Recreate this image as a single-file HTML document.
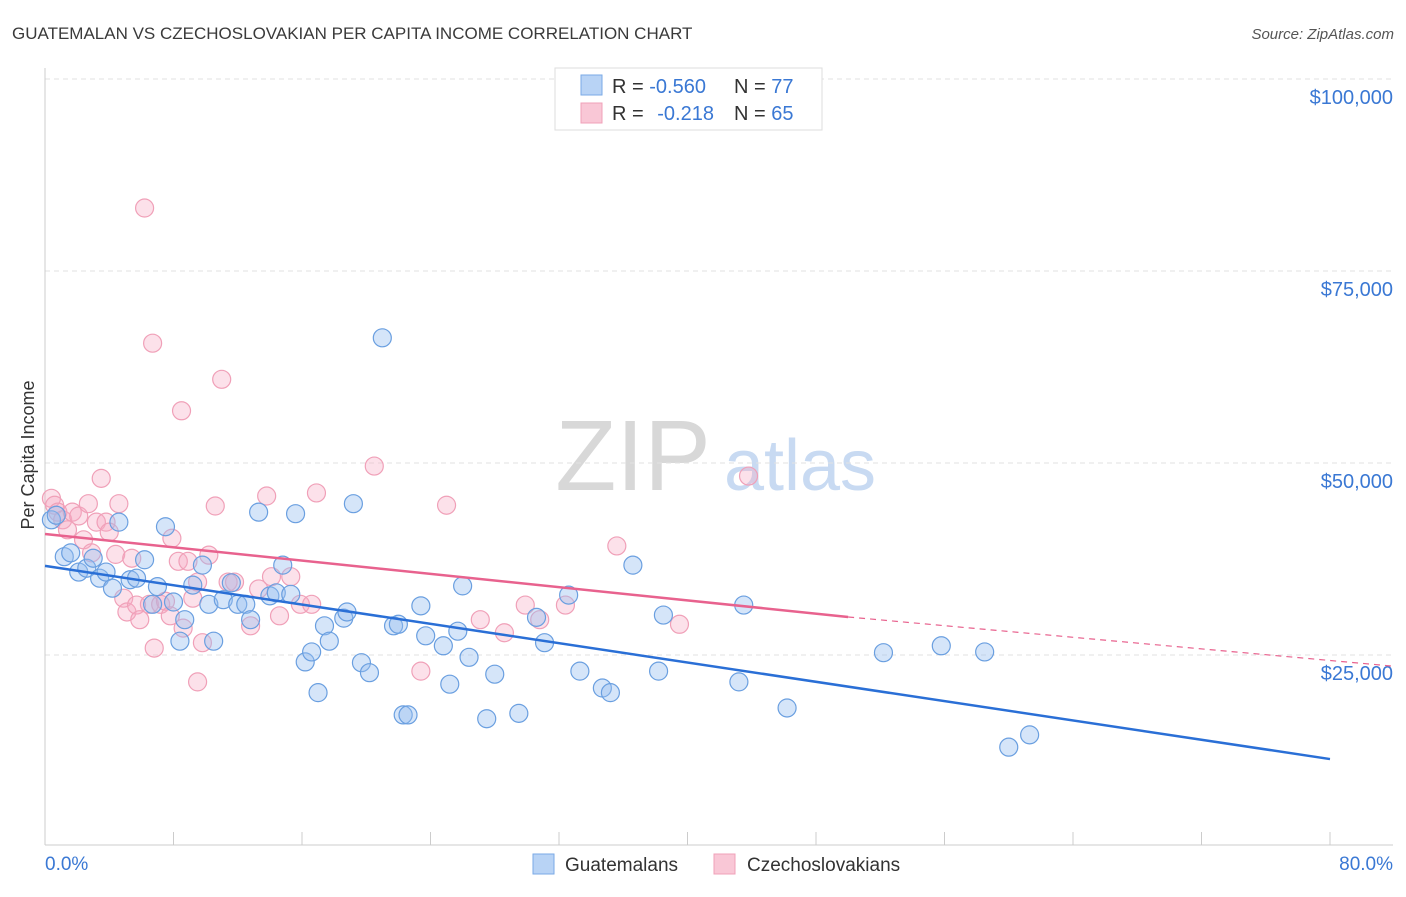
<!DOCTYPE html>
<html><head><meta charset="utf-8"><style>
html,body{margin:0;padding:0;background:#fff;}
body{width:1406px;height:892px;overflow:hidden;font-family:"Liberation Sans",sans-serif;}
svg text{font-family:"Liberation Sans",sans-serif;}
</style></head><body>
<svg id="chart" width="1406" height="892" xmlns="http://www.w3.org/2000/svg">
<text x="12" y="39" font-size="17" fill="#3a3a3a">GUATEMALAN VS CZECHOSLOVAKIAN PER CAPITA INCOME CORRELATION CHART</text>
<text x="1394" y="39" font-size="15" fill="#555" font-style="italic" text-anchor="end">Source: ZipAtlas.com</text>
<text transform="translate(34,455) rotate(-90)" font-size="18" fill="#333" text-anchor="middle">Per Capita Income</text>
<g>
<text x="633" y="490" font-size="100" font-family="Liberation Serif,serif" fill="#d8d8d8" text-anchor="middle">ZIP</text>
<text x="800" y="490" font-size="72" fill="#c8daf2" text-anchor="middle">atlas</text>
</g>
<g id="grid"></g>
<g id="axes"></g>
<g id="points"></g>
<g id="lines"></g>
<g>
<rect x="555" y="68" width="267" height="62" fill="#fff" stroke="#ddd"/>
<rect x="581" y="75" width="21" height="20" fill="#b8d3f5" stroke="#7aa9e6"/>
<rect x="581" y="103" width="21" height="20" fill="#f9c7d6" stroke="#f0a0b8"/>
<text x="612" y="93" font-size="20" fill="#333">R = <tspan fill="#3a78d4">-0.560</tspan></text>
<text x="734" y="93" font-size="20" fill="#333">N = <tspan fill="#3a78d4">77</tspan></text>
<text x="612" y="120" font-size="20" fill="#333">R = <tspan fill="#3a78d4" dx="8">-0.218</tspan></text>
<text x="734" y="120" font-size="20" fill="#333">N = <tspan fill="#3a78d4">65</tspan></text>
</g>
<g>
<rect x="533" y="854" width="21" height="20" fill="#b8d3f5" stroke="#7aa9e6"/>
<text x="565" y="871" font-size="19" fill="#333">Guatemalans</text>
<rect x="714" y="854" width="21" height="20" fill="#f9c7d6" stroke="#f0a0b8"/>
<text x="747" y="871" font-size="19" fill="#333">Czechoslovakians</text>
</g>
</svg>
<script>
const yTicks=[25000,50000,75000,100000];
const yTickLabels=["$25,000","$50,000","$75,000","$100,000"];
const xTickLabels=["0.0%","80.0%"];
const guatX=[0.4,0.7,1.2,1.6,2.1,2.6,3.0,3.4,3.8,4.2,4.6,5.3,5.7,6.2,6.7,7.0,7.5,8.0,8.4,8.7,9.2,9.8,10.2,10.5,11.1,11.6,12.0,12.5,12.8,13.3,14.0,14.4,14.8,15.3,15.6,16.2,16.6,17.0,17.4,17.7,18.6,18.8,19.2,19.7,20.2,21.0,21.7,22.0,22.3,22.6,23.4,23.7,24.8,25.2,25.7,26.0,26.4,27.5,28.0,29.5,30.6,31.1,32.6,33.3,34.7,35.2,36.6,38.2,38.5,43.2,43.5,46.2,52.2,55.8,58.5,60.0,61.3];
const guatY=[42600,43200,37800,38300,35800,36300,37600,35000,35800,33700,42300,34800,35000,37400,31600,33900,41700,31900,26800,29600,34100,36700,31600,26800,32200,34400,31600,31600,29600,43600,32700,33100,36700,32900,43400,24100,25400,20100,28800,26800,29800,30600,44700,24000,22700,66300,28800,29000,17200,17200,31400,27500,26200,21200,28100,34000,24700,16700,22500,17400,29900,26600,32800,22900,20700,20100,36700,22900,30200,21500,31500,18100,25300,26200,25400,13000,14600];
const czX=[0.4,0.6,0.8,1.1,1.4,1.7,2.1,2.4,2.7,2.9,3.2,3.5,3.8,4.0,4.4,4.6,4.9,5.1,5.4,5.7,5.9,6.2,6.5,6.7,6.8,7.2,7.5,7.8,7.9,8.3,8.5,8.6,8.9,9.2,9.5,9.8,9.5,10.2,10.6,11.0,11.4,11.8,12.8,13.3,13.8,14.1,14.6,15.3,15.9,16.6,16.9,20.5,23.4,25.0,27.1,28.6,29.9,30.8,32.4,35.6,39.5,43.8];
const czY=[45400,44500,43600,42600,41300,43600,43100,40000,44700,38300,42300,48000,42300,41000,38100,44700,32400,30600,37600,31500,29600,83200,31600,65600,25900,31600,32000,30100,40200,37200,56800,28500,37200,32400,34500,26600,21500,38000,44400,60900,34500,34500,28800,33600,45700,35200,30100,35200,31600,31600,46100,49600,22900,44500,29600,27900,31500,29600,31500,39200,29000,48300];
const guatTrend=[36600,11450];
const czTrend=[40750,29950,23550];
const czTrendX=[0,50,83.9];

const NS="http://www.w3.org/2000/svg";
const X0=45,X1=1330,YB=847,PXPER=192/25000;
function sx(v){return X0+(X1-X0)*v/80;}
function sy(v){return YB-v*PXPER;}
function mk(tag,attrs,parent){const e=document.createElementNS(NS,tag);for(const k in attrs)e.setAttribute(k,attrs[k]);document.getElementById(parent).appendChild(e);return e;}

yTicks.forEach((t,i)=>{
  const l=mk('line',{x1:45,x2:1393,y1:sy(t),y2:sy(t),stroke:'#e2e2e2','stroke-dasharray':'5,4'},'grid');
  
  
  const tx=mk('text',{x:1393,y:sy(t)+25,'font-size':20,fill:'#3a78d4','text-anchor':'end'},'grid');
  tx.textContent=yTickLabels[i];
  
  
});
const ax=mk('line',{x1:45,x2:1393,y1:845,y2:845,stroke:'#ccc'},'axes');


const ay=mk('line',{x1:45,x2:45,y1:68,y2:845,stroke:'#ccc'},'axes');


for(let i=0;i<=10;i++){
  const t=mk('line',{x1:sx(i*8),x2:sx(i*8),y1:832,y2:845,stroke:'#ccc'},'axes');
  
  
}
const xl0=mk('text',{x:45,y:870,'font-size':19,fill:'#3a78d4'},'axes');xl0.textContent=xTickLabels[0];


const xl1=mk('text',{x:1393,y:870,'font-size':19,fill:'#3a78d4','text-anchor':'end'},'axes');xl1.textContent=xTickLabels[1];



czX.forEach((v,i)=>{
  const c=mk('circle',{cx:sx(v),cy:sy(czY[i]),r:9,fill:'rgba(246,170,195,0.35)',stroke:'#f0a0b8','stroke-width':1.2},'points');
  
  
});
guatX.forEach((v,i)=>{
  const c=mk('circle',{cx:sx(v),cy:sy(guatY[i]),r:9,fill:'rgba(150,190,240,0.4)',stroke:'#6a9fe0','stroke-width':1.2},'points');
  
  
});
const gl=mk('line',{x1:sx(0),y1:sy(guatTrend[0]),x2:sx(80),y2:sy(guatTrend[1]),stroke:'#2a6fd6','stroke-width':2.5},'lines');


const pl=mk('line',{x1:sx(czTrendX[0]),y1:sy(czTrend[0]),x2:sx(czTrendX[1]),y2:sy(czTrend[1]),stroke:'#e8628e','stroke-width':2.5},'lines');


const pd=mk('line',{x1:sx(czTrendX[1]),y1:sy(czTrend[1]),x2:sx(czTrendX[2]),y2:sy(czTrend[2]),stroke:'#e8628e','stroke-width':1.2,'stroke-dasharray':'6,5'},'lines');


</script>
</body></html>
